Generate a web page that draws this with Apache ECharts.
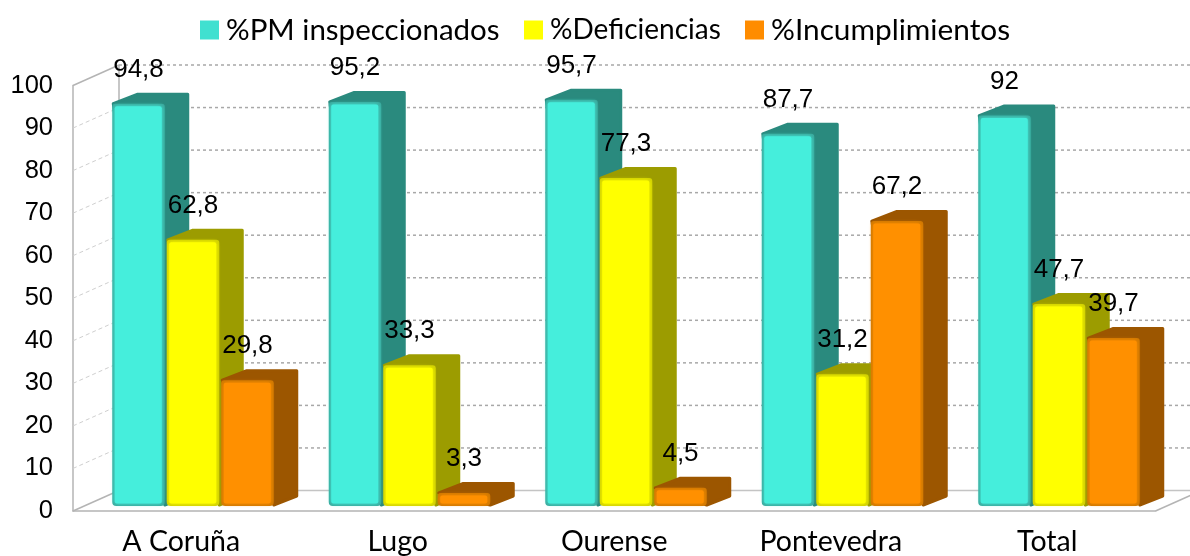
<!DOCTYPE html>
<html lang="es">

<head>
  <meta charset="UTF-8">
  <title>Inspecciones por provincia</title>
  <style type="text/css">
    html, body { margin: 0; padding: 0; background: #fff; }
    #mainChart { width: 1190px; height: 556px; }
  </style>
</head>

<body>
  <div id="mainChart"></div>
  <script src="https://cdn.jsdelivr.net/npm/echarts@6/dist/echarts.min.js"></script>
  <script type="text/javascript">
    var categories = ['A Coruña', 'Lugo', 'Ourense', 'Pontevedra', 'Total'];
    var pmInspeccionados = [94.8, 95.2, 95.7, 87.7, 92];
    var deficiencias = [62.8, 33.3, 77.3, 31.2, 47.7];
    var incumplimientos = [29.8, 3.3, 4.5, 67.2, 39.7];
    var yTicks = [0, 10, 20, 30, 40, 50, 60, 70, 80, 90, 100];

    var seriesNames = ['%PM inspeccionados', '%Deficiencias', '%Incumplimientos'];
    var seriesValues = [pmInspeccionados, deficiencias, incumplimientos];
    var frontColors = ['#45eedc', '#ffff00', '#ff9000'];
    var legendColors = ['#40e0d0', '#ffff00', '#ff8c00'];
    var sideColors = ['#2a8a7e', '#9c9c00', '#9c5600'];
    var edgeColors = ['#3aa89c', '#d0d000', '#d07800'];

    // fake 3d: how far the walls and the bars are pushed back, in pixels
    var wallDx = 46, wallDy = 20.5;
    var barDx = 24.5, barDy = 11;
    var barWidth = 52.5, barStep = 54.5, groupOffset = -69;
    var topLift = 4, baseLift = 5;

    function renderWalls(params, api) {
      var v = api.value(0);
      var grid = params.coordSys;
      var y = api.coord([0, v])[1];
      var left = grid.x, right = grid.x + grid.width;
      var dashed = v !== 0 && v !== 100;
      var kids = [{
        // side wall
        type: 'line',
        shape: { x1: left, y1: y, x2: left + wallDx, y2: y - wallDy },
        style: { stroke: dashed ? '#cfcfcf' : '#b4b4b4', lineWidth: dashed ? 1 : 1.5, lineDash: dashed ? [4, 3] : null }
      }, {
        // back wall
        type: 'line',
        shape: { x1: left + wallDx, y1: y - wallDy, x2: right + wallDx, y2: y - wallDy },
        style: { stroke: v === 0 ? '#c4c4c4' : '#a8a8a8', lineWidth: 1.5, lineDash: v === 0 ? null : [3, 3] }
      }];
      if (v === 0) {
        // right edge of the floor and the back corner
        kids.push({
          type: 'line',
          shape: { x1: right, y1: y, x2: right + wallDx, y2: y - wallDy },
          style: { stroke: '#b4b4b4', lineWidth: 1.5 }
        });
        kids.push({
          type: 'line',
          shape: { x1: left + wallDx, y1: y - wallDy, x2: left + wallDx, y2: api.coord([0, 100])[1] - wallDy },
          style: { stroke: '#b4b4b4', lineWidth: 1.5 }
        });
      }
      return { type: 'group', children: kids };
    }

    function barRenderer(s) {
      return function (params, api) {
        var i = api.value(0);
        var x0 = api.coord([i, 0])[0] + groupOffset + s * barStep;
        var x1 = x0 + barWidth;
        var yTop = api.coord([i, api.value(1)])[1] - topLift;
        var yBase = api.coord([i, 0])[1] - baseLift;
        return {
          type: 'group',
          children: [{
            // top and side faces, round joins soften the corners
            type: 'polygon',
            shape: {
              points: [
                [x0 + 1, yTop],
                [x0 + barDx + 1, yTop - barDy + 1.5],
                [x1 + barDx - 1.5, yTop - barDy + 1.5],
                [x1 + barDx - 1.5, yBase - barDy + 1],
                [x1, yBase - 1]
              ]
            },
            style: { fill: sideColors[s], stroke: sideColors[s], lineWidth: 3, lineJoin: 'round' }
          }, {
            // darker rim of the front face
            type: 'rect',
            shape: { x: x0, y: yTop, width: barWidth, height: yBase - yTop, r: [3, 3, 4, 4] },
            style: { fill: edgeColors[s] }
          }, {
            // blurred inner face gives the soft bevel
            type: 'rect',
            shape: { x: x0 + 2.5, y: yTop + 2.5, width: barWidth - 5.5, height: Math.max(yBase - yTop - 5, 1), r: 2 },
            style: { fill: frontColors[s], shadowBlur: 4, shadowColor: frontColors[s] }
          }]
        };
      };
    }

    function labelRenderer(s) {
      return function (params, api) {
        var i = api.value(0);
        var x0 = api.coord([i, 0])[0] + groupOffset + s * barStep;
        var yTop = api.coord([i, api.value(1)])[1] - topLift;
        return {
          type: 'text',
          style: {
            x: x0 + barWidth / 2,
            y: yTop - 34,
            text: String(api.value(1)).replace('.', ','),
            fill: '#000',
            font: '26px "Liberation Sans"',
            align: 'center',
            verticalAlign: 'middle'
          }
        };
      };
    }

    var series = [{
      name: 'walls',
      type: 'custom',
      z: 1,
      silent: true,
      renderItem: renderWalls,
      data: yTicks.map(function (v) { return [v]; })
    }];
    seriesNames.forEach(function (name, s) {
      series.push({
        name: name,
        type: 'custom',
        z: 2,
        itemStyle: { color: legendColors[s] },
        encode: { x: 0, y: 1 },
        renderItem: barRenderer(s),
        data: seriesValues[s].map(function (v, i) { return [i, v]; })
      });
    });
    seriesNames.forEach(function (name, s) {
      series.push({
        name: name + ' valores',
        type: 'custom',
        z: 3,
        silent: true,
        encode: { x: 0, y: 1 },
        renderItem: labelRenderer(s),
        data: seriesValues[s].map(function (v, i) { return [i, v]; })
      });
    });

    // one legend per entry, the entries do not share a common spacing
    var legendLeft = [195, 519, 740];
    var legendTop = [10, 11, 10];
    var legendFont = [29.5, 28, 29.8];
    var legends = seriesNames.map(function (name, s) {
      return {
        data: [name],
        left: legendLeft[s],
        top: legendTop[s],
        icon: 'rect',
        itemWidth: 19,
        itemHeight: 19,
        selectedMode: false,
        textStyle: { fontFamily: 'Lato', fontSize: legendFont[s], color: '#000', padding: [0, 0, 0, 2] }
      };
    });

    var myChart = echarts.init(document.getElementById('mainChart'));
    myChart.setOption({
      animation: false,
      backgroundColor: '#fff',
      legend: legends,
      grid: { left: 73, right: 34.5, top: 85.5, bottom: 45, outerBoundsMode: 'none' },
      xAxis: {
        type: 'category',
        data: categories,
        axisLine: { lineStyle: { color: '#b4b4b4', width: 1.5 } },
        axisTick: { show: false },
        axisLabel: { fontFamily: 'Lato', fontSize: 28.5, color: '#000', margin: 16.5 }
      },
      yAxis: {
        type: 'value',
        min: 0,
        max: 100,
        interval: 10,
        axisLine: { show: true, lineStyle: { color: '#b4b4b4', width: 1.5 } },
        axisTick: { show: false },
        splitLine: { show: false },
        axisLabel: { fontFamily: 'Liberation Sans', fontSize: 25.5, color: '#000', margin: 20, padding: [5, 0, 0, 0] }
      },
      series: series
    });
  </script>
</body>

</html>
